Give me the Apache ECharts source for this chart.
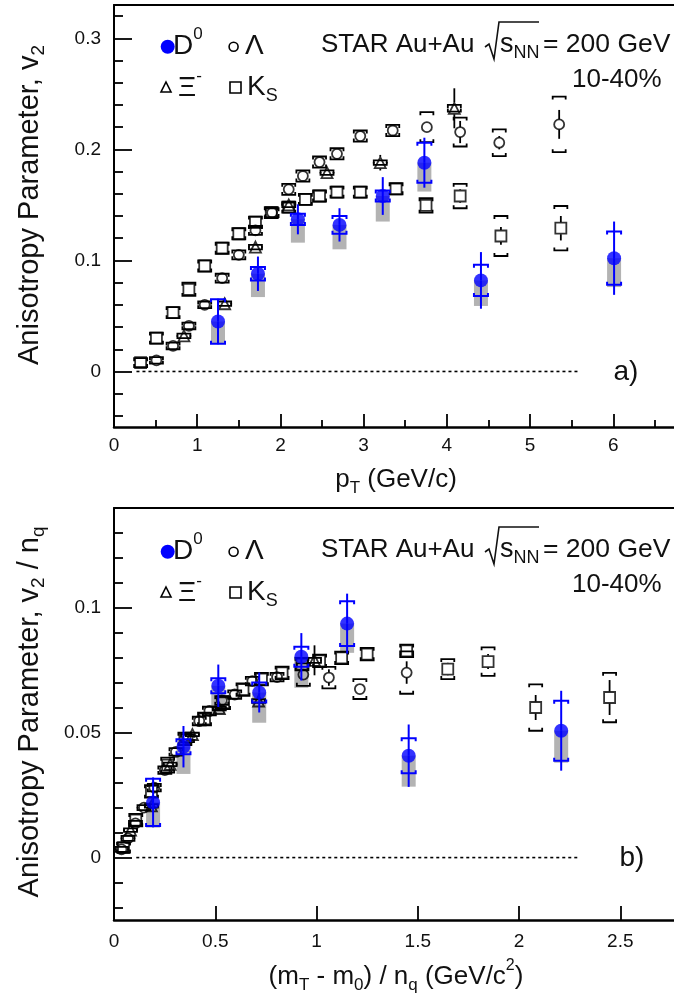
<!DOCTYPE html>
<html><head><meta charset="utf-8">
<script src="https://cdn.jsdelivr.net/npm/echarts@6/dist/echarts.min.js"></script>
<style>html,body{margin:0;padding:0;background:#fff}#c{width:674px;height:997px}</style>
</head><body><div id="c"></div>
<script>
// ===== Panel a) v2 vs pT =====
const a_xTicks = [0, 1, 2, 3, 4, 5, 6];
const a_yTicks = [0, 0.1, 0.2, 0.3];
const a_yMinor = [-0.04, -0.02, 0.02, 0.04, 0.06, 0.08, 0.12, 0.14, 0.16, 0.18, 0.22, 0.24, 0.26, 0.28, 0.32];
const a_xMinor = [0.5, 1.5, 2.5, 3.5, 4.5, 5.5, 6.5];

const a_d0_x = [1.25, 1.73, 2.21, 2.71, 3.23, 3.73, 4.41, 6.01];
const a_d0_y = [0.045, 0.088, 0.137, 0.132, 0.158, 0.188, 0.082, 0.102];
const a_d0_stat = [0.0205, 0.0155, 0.0135, 0.015, 0.017, 0.0225, 0.0255, 0.033];
const a_d0_sys = [0.02, 0.006, 0.005, 0.008, 0.005, 0.018, 0.014, 0.024];
const a_d0_boxLow = [0.025, 0.067, 0.116, 0.110, 0.135, 0.162, 0.059, 0.076];

const a_ks_x = [0.32, 0.51, 0.71, 0.90, 1.09, 1.30, 1.50, 1.70, 1.89, 2.10, 2.30, 2.47, 2.68, 2.96, 3.39, 3.75, 4.16, 4.65, 5.37];
const a_ks_y = [0.008, 0.030, 0.053, 0.074, 0.095, 0.111, 0.124, 0.1345, 0.143, 0.148, 0.155, 0.158, 0.1615, 0.1615, 0.1645, 0.1495, 0.158, 0.122, 0.129];
const a_ks_stat = [0.001, 0.001, 0.001, 0.001, 0.001, 0.001, 0.001, 0.001, 0.001, 0.002, 0.002, 0.002, 0.002, 0.003, 0.003, 0.005, 0.006, 0.008, 0.011];
const a_ks_sys = [0.004, 0.005, 0.005, 0.006, 0.005, 0.005, 0.005, 0.005, 0.005, 0.005, 0.005, 0.005, 0.005, 0.005, 0.005, 0.0065, 0.011, 0.018, 0.020];

const a_la_x = [0.51, 0.71, 0.90, 1.09, 1.30, 1.50, 1.70, 1.90, 2.10, 2.27, 2.47, 2.68, 2.96, 3.35, 3.76, 4.16, 4.63, 5.35];
const a_la_y = [0.010, 0.023, 0.041, 0.060, 0.084, 0.105, 0.127, 0.143, 0.164, 0.176, 0.1886, 0.196, 0.212, 0.217, 0.220, 0.2156, 0.206, 0.2225];
const a_la_stat = [0.001, 0.001, 0.001, 0.001, 0.001, 0.001, 0.001, 0.002, 0.002, 0.002, 0.002, 0.002, 0.003, 0.003, 0.004, 0.010, 0.006, 0.013];
const a_la_sys = [0.003, 0.003, 0.003, 0.003, 0.004, 0.004, 0.004, 0.004, 0.005, 0.005, 0.005, 0.005, 0.005, 0.005, 0.0135, 0.013, 0.012, 0.025];

const a_xi_x = [0.84, 1.33, 1.70, 2.10, 2.56, 3.20, 4.09];
const a_xi_y = [0.032, 0.061, 0.112, 0.150, 0.179, 0.188, 0.237];
const a_xi_stat = [0.004, 0.004, 0.004, 0.004, 0.005, 0.007, 0.018];
const a_xi_sys = [0.002, 0.002, 0.002, 0.002, 0.002, 0.002, 0.003];

const a_zero = [[0.27, 0], [5.57, 0]];

// ===== Panel b) v2/nq vs (mT-m0)/nq =====
const b_xTicks = [0, 0.5, 1, 1.5, 2, 2.5];
const b_yTicks = [0, 0.05, 0.1];
const b_yMinor = [-0.02, -0.01, 0.01, 0.02, 0.03, 0.04, 0.06, 0.07, 0.08, 0.09, 0.11, 0.12, 0.13];

const b_d0_x = [0.193, 0.343, 0.515, 0.717, 0.925, 1.151, 1.455, 2.208];
const b_d0_y = [0.0221, 0.0444, 0.0688, 0.0661, 0.0804, 0.0937, 0.0408, 0.0508];
const b_d0_stat = [0.010, 0.0083, 0.0085, 0.008, 0.0095, 0.012, 0.0125, 0.016];
const b_d0_sys = [0.0095, 0.003, 0.003, 0.004, 0.004, 0.009, 0.007, 0.012];
const b_d0_boxLow = [0.012, 0.0335, 0.0575, 0.054, 0.068, 0.082, 0.0284, 0.038];

const b_ks_x = [0.047, 0.1075, 0.185, 0.265, 0.350, 0.447, 0.541, 0.637, 0.728, 0.830, 0.928, 1.015, 1.124, 1.250, 1.445, 1.648, 1.847, 2.082, 2.447];
const b_ks_y = [0.004, 0.015, 0.0265, 0.037, 0.0475, 0.0555, 0.062, 0.0673, 0.0715, 0.074, 0.0775, 0.0788, 0.080, 0.0815, 0.0828, 0.0755, 0.0785, 0.0601, 0.0641];
const b_ks_stat = [0.0005, 0.0005, 0.0005, 0.0005, 0.0005, 0.0005, 0.0005, 0.0005, 0.0005, 0.001, 0.001, 0.001, 0.001, 0.0015, 0.0015, 0.0025, 0.003, 0.005, 0.007];
const b_ks_sys = [0.002, 0.0025, 0.0025, 0.003, 0.0025, 0.0025, 0.0025, 0.0025, 0.0025, 0.0025, 0.0025, 0.0025, 0.0025, 0.0025, 0.0025, 0.004, 0.0057, 0.0093, 0.0099];

const b_la_x = [0.037, 0.069, 0.106, 0.148, 0.199, 0.251, 0.306, 0.363, 0.421, 0.471, 0.532, 0.596, 0.683, 0.805, 0.935, 1.061, 1.214, 1.445];
const b_la_y = [0.0033, 0.0077, 0.0137, 0.020, 0.028, 0.035, 0.0423, 0.0477, 0.0547, 0.0587, 0.0629, 0.0653, 0.0707, 0.0723, 0.0733, 0.0721, 0.0675, 0.0741];
const b_la_stat = [0.0004, 0.0004, 0.0004, 0.0004, 0.0004, 0.0004, 0.0005, 0.0007, 0.0007, 0.0007, 0.0007, 0.0007, 0.001, 0.001, 0.0015, 0.0033, 0.002, 0.0045];
const b_la_sys = [0.001, 0.001, 0.001, 0.001, 0.0015, 0.0015, 0.0015, 0.0015, 0.0017, 0.0017, 0.0017, 0.0017, 0.0017, 0.0017, 0.0045, 0.0043, 0.004, 0.0085];

const b_xi_x = [0.0815, 0.1845, 0.277, 0.387, 0.520, 0.714, 0.99];
const b_xi_y = [0.011, 0.0207, 0.0373, 0.0493, 0.0597, 0.0627, 0.079];
const b_xi_stat = [0.0013, 0.0013, 0.0013, 0.0013, 0.0017, 0.0023, 0.006];
const b_xi_sys = [0.0007, 0.0007, 0.0007, 0.0007, 0.0007, 0.0007, 0.001];

const b_zero = [[0.11, 0], [2.29, 0]];

// ===== rendering =====
const FONT = "'Liberation Sans', Arial, Helvetica, sans-serif";
const BLUE = '#0000ff';
const INK = '#111';
const zip = (...arrs) => arrs[0].map((_, i) => arrs.map(a => a[i]));

function errRender(color, capW, gap, lw) {
  return function (params, api) {
    const x = api.value(0), y = api.value(1), st = api.value(2), sy = api.value(3);
    const c = api.coord([x, y]);
    const top = api.coord([x, y + st])[1], bot = api.coord([x, y - st])[1];
    const sTop = api.coord([x, y + sy])[1], sBot = api.coord([x, y - sy])[1];
    const ls = { stroke: color, lineWidth: lw, fill: null };
    const ch = [];
    if (c[1] - gap > top) ch.push({ type: 'line', shape: { x1: c[0], y1: top, x2: c[0], y2: c[1] - gap }, style: ls });
    if (c[1] + gap < bot) ch.push({ type: 'line', shape: { x1: c[0], y1: c[1] + gap, x2: c[0], y2: bot }, style: ls });
    const hw = capW / 2, t = 3;
    ch.push({ type: 'polyline', shape: { points: [[c[0] - hw, sTop + t], [c[0] - hw, sTop], [c[0] + hw, sTop], [c[0] + hw, sTop + t]] }, style: ls });
    ch.push({ type: 'polyline', shape: { points: [[c[0] - hw, sBot - t], [c[0] - hw, sBot], [c[0] + hw, sBot], [c[0] + hw, sBot - t]] }, style: ls });
    return { type: 'group', children: ch };
  };
}
function boxRender(params, api) {
  const x = api.value(0), y = api.value(1), lo = api.value(2);
  const p1 = api.coord([x, y]), p2 = api.coord([x, lo]);
  return { type: 'rect', shape: { x: p1[0] - 7, y: p1[1], width: 14, height: p2[1] - p1[1] }, style: { fill: '#b3b3b3' } };
}

function panelSeries(xi, yi, P) {
  const s = [];
  s.push({ type: 'line', xAxisIndex: xi, yAxisIndex: yi, data: P.zero, symbol: 'none', silent: true,
    lineStyle: { color: '#000', width: 1.6, type: [3, 3] }, z: 1 });
  s.push({ type: 'custom', xAxisIndex: xi, yAxisIndex: yi, renderItem: boxRender, encode: { x: 0, y: 1 },
    data: zip(P.d0x, P.d0y, P.d0box), z: 2 });
  const blk = [[P.ksx, P.ksy, P.kss, P.kssy, 6], [P.lax, P.lay, P.las, P.lasy, 5], [P.xix, P.xiy, P.xis, P.xisy, 6]];
  blk.forEach(b => s.push({ type: 'custom', xAxisIndex: xi, yAxisIndex: yi, renderItem: errRender('#000', 13, b[4], 1.8),
    encode: { x: 0, y: 1 }, data: zip(b[0], b[1], b[2], b[3]), z: 3 }));
  const mk = { color: 'rgba(0,0,0,0)', borderColor: '#000', borderWidth: 1.8 };
  s.push({ type: 'scatter', xAxisIndex: xi, yAxisIndex: yi, symbol: 'rect', symbolSize: 11, itemStyle: mk, data: zip(P.ksx, P.ksy), z: 4 });
  s.push({ type: 'scatter', xAxisIndex: xi, yAxisIndex: yi, symbol: 'circle', symbolSize: 10, itemStyle: mk, data: zip(P.lax, P.lay), z: 4 });
  s.push({ type: 'scatter', xAxisIndex: xi, yAxisIndex: yi, symbol: 'triangle', symbolSize: 11, itemStyle: mk, data: zip(P.xix, P.xiy), z: 4 });
  s.push({ type: 'custom', xAxisIndex: xi, yAxisIndex: yi, renderItem: errRender(BLUE, 14, 0, 2),
    encode: { x: 0, y: 1 }, data: zip(P.d0x, P.d0y, P.d0s, P.d0sy), z: 5 });
  s.push({ type: 'scatter', xAxisIndex: xi, yAxisIndex: yi, symbol: 'circle', symbolSize: 14, itemStyle: { color: BLUE }, data: zip(P.d0x, P.d0y), z: 6 });
  return s;
}

const series = [].concat(
  panelSeries(0, 0, { zero: a_zero, d0x: a_d0_x, d0y: a_d0_y, d0s: a_d0_stat, d0sy: a_d0_sys, d0box: a_d0_boxLow,
    ksx: a_ks_x, ksy: a_ks_y, kss: a_ks_stat, kssy: a_ks_sys, lax: a_la_x, lay: a_la_y, las: a_la_stat, lasy: a_la_sys,
    xix: a_xi_x, xiy: a_xi_y, xis: a_xi_stat, xisy: a_xi_sys }),
  panelSeries(3, 2, { zero: b_zero, d0x: b_d0_x, d0y: b_d0_y, d0s: b_d0_stat, d0sy: b_d0_sys, d0box: b_d0_boxLow,
    ksx: b_ks_x, ksy: b_ks_y, kss: b_ks_stat, kssy: b_ks_sys, lax: b_la_x, lay: b_la_y, las: b_la_stat, lasy: b_la_sys,
    xix: b_xi_x, xiy: b_xi_y, xis: b_xi_stat, xisy: b_xi_sys })
);

const lblStyle = { color: INK, fontSize: 19, fontFamily: FONT };
function xMain(grid, min, max, ticks, fmt, tickLen, margin) {
  return { type: 'value', gridIndex: grid, position: 'bottom', min, max,
    axisLine: { show: true, onZero: false, lineStyle: { color: '#000', width: 2.5 } },
    axisTick: { show: true, inside: true, length: tickLen, customValues: ticks, lineStyle: { color: '#000', width: 1.8 } },
    axisLabel: Object.assign({ show: true, customValues: ticks, margin, formatter: fmt }, lblStyle),
    splitLine: { show: false } };
}
function xMinor(grid, min, max, ticks, len) {
  return { type: 'value', gridIndex: grid, position: 'bottom', min, max,
    axisLine: { show: false, onZero: false }, axisLabel: { show: false }, splitLine: { show: false },
    axisTick: { show: len > 0, inside: true, length: len, customValues: ticks, lineStyle: { color: '#000', width: 1.8 } } };
}
function xTop(grid, min, max) {
  return { type: 'value', gridIndex: grid, position: 'top', min, max,
    axisLine: { show: true, onZero: false, lineStyle: { color: '#000', width: 2 } },
    axisLabel: { show: false }, axisTick: { show: false }, splitLine: { show: false } };
}
function yMain(grid, min, max, ticks, fmt) {
  return { type: 'value', gridIndex: grid, position: 'left', min, max,
    axisLine: { show: true, onZero: false, lineStyle: { color: '#000', width: 2 } },
    axisTick: { show: true, inside: true, length: 18, customValues: ticks, lineStyle: { color: '#000', width: 1.8 } },
    axisLabel: Object.assign({ show: true, customValues: ticks, margin: 13, formatter: fmt }, lblStyle),
    splitLine: { show: false } };
}
function yMinor(grid, min, max, ticks) {
  return { type: 'value', gridIndex: grid, position: 'left', min, max,
    axisLine: { show: false, onZero: false }, axisLabel: { show: false }, splitLine: { show: false },
    axisTick: { show: true, inside: true, length: 9, customValues: ticks, lineStyle: { color: '#000', width: 1.8 } } };
}
const fmtPlain = v => String(+v.toFixed(3));

function richSet(size) {
  return {
    m: { fontSize: size, fontFamily: FONT, fill: INK },
    s: { fontSize: Math.round(size * 0.66), fontFamily: FONT, fill: INK, padding: [Math.round(size * 0.62), 0, 0, 0] },
    p: { fontSize: Math.round(size * 0.6), fontFamily: FONT, fill: INK, padding: [0, 0, Math.round(size * 0.85), 0] }
  };
}
function txt(x, y, text, opts) {
  opts = opts || {};
  const size = opts.size || 26;
  return { type: 'text', x, y, rotation: opts.rot || 0, z: 100,
    style: { text, align: opts.align || 'left', verticalAlign: 'middle', fontSize: size, fontFamily: FONT, fill: INK, rich: richSet(size) } };
}
function legend(dy) {
  const g = [];
  g.push({ type: 'circle', shape: { cx: 167.7, cy: 46.7 + dy, r: 7 }, style: { fill: BLUE }, z: 100 });
  g.push(txt(173, 46.7 + dy, '{m|D}{p|0}', { size: 28 }));
  g.push({ type: 'circle', shape: { cx: 233.6, cy: 46.7 + dy, r: 4.5 }, style: { fill: null, stroke: '#000', lineWidth: 1.6 }, z: 100 });
  g.push(txt(245, 46.7 + dy, '{m|Λ}', { size: 28 }));
  g.push({ type: 'polygon', shape: { points: [[166, 82 + dy], [171, 92 + dy], [161, 92 + dy]] }, style: { fill: null, stroke: '#000', lineWidth: 1.6 }, z: 100 });
  g.push(txt(178, 88 + dy, '{m|Ξ}{p|-}', { size: 28 }));
  g.push({ type: 'rect', shape: { x: 230, y: 82 + dy, width: 11, height: 11 }, style: { fill: null, stroke: '#000', lineWidth: 1.6 }, z: 100 });
  g.push(txt(247, 87.3 + dy, '{m|K}{s|S}', { size: 28 }));
  // STAR Au+Au sqrt(s_NN) = 200 GeV
  g.push(txt(321, 45 + dy, '{m|STAR Au+Au}', { size: 26 }));
  g.push({ type: 'polyline', shape: { points: [[485, 47 + dy], [489, 44 + dy], [494, 59 + dy], [499, 22 + dy], [539, 22 + dy]] },
    style: { fill: null, stroke: INK, lineWidth: 1.6 }, z: 100 });
  g.push(txt(500, 45 + dy, '{m|s}{s|NN}', { size: 27 }));
  g.push(txt(543, 45 + dy, '{m|= 200 GeV}', { size: 26.5 }));
  g.push(txt(572, 80 + dy, '{m|10-40%}', { size: 26 }));
  return g;
}

const graphic = [].concat(
  legend(0), legend(505),
  [txt(626, 372, '{m|a)}', { size: 28, align: 'center' }),
   txt(632, 858, '{m|b)}', { size: 28, align: 'center' }),
   txt(396, 480, '{m|p}{s|T}{m| (GeV/c)}', { align: 'center' }),
   txt(396, 977, '{m|(m}{s|T}{m| - m}{s|0}{m|) / n}{s|q}{m| (GeV/c}{p|2}{m|)}', { align: 'center' }),
   txt(30, 205, '{m|Anisotropy Parameter, v}{s|2}', { align: 'center', rot: Math.PI / 2, size: 29 }),
   txt(30, 712, '{m|Anisotropy Parameter, v}{s|2}{m| / n}{s|q}', { align: 'center', rot: Math.PI / 2, size: 29 })]
);

const A_MAX = 6.73, B_MAX = 2.765;
const option = {
  animation: false,
  backgroundColor: '#fff',
  grid: [
    { left: 114, top: 5, width: 560, height: 422 },
    { left: 114, top: 508, width: 560, height: 412 }
  ],
  xAxis: [
    xMain(0, 0, A_MAX, a_xTicks, fmtPlain, 13, 9),
    xMinor(0, 0, A_MAX, a_xMinor, 7),
    xTop(0, 0, A_MAX),
    xMain(1, 0, B_MAX, b_xTicks, fmtPlain, 14, 12),
    xTop(1, 0, B_MAX)
  ],
  yAxis: [
    yMain(0, -0.05, 0.33, a_yTicks, fmtPlain),
    yMinor(0, -0.05, 0.33, a_yMinor),
    yMain(1, -0.025, 0.14, b_yTicks, fmtPlain),
    yMinor(1, -0.025, 0.14, b_yMinor)
  ],
  series,
  graphic
};
const chart = echarts.init(document.getElementById('c'), null, { renderer: 'canvas' });
chart.setOption(option);
</script></body></html>
